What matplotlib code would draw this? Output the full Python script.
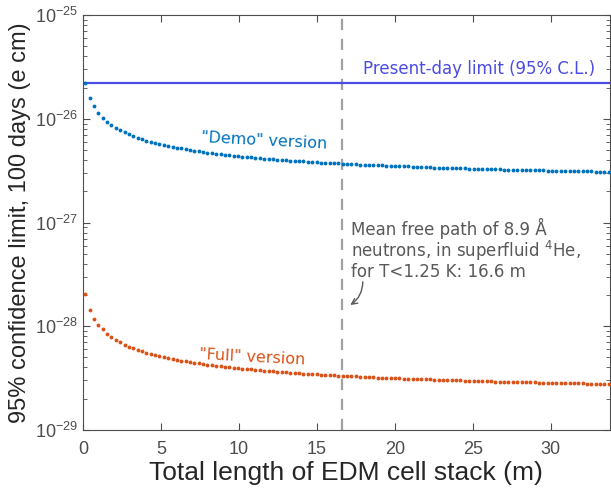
import numpy as np
import matplotlib
matplotlib.use('Agg')
import matplotlib.pyplot as plt

# Stack length grid (m)
stack_length_m = [round(0.14 + 0.28 * k, 2) for k in range(121)]

# "Demo" version limit, units of 1e-26 e cm
demo_limit = [
    2.22, 1.60, 1.32, 1.14, 1.01, 0.933, 0.869, 0.817, 0.775, 0.739,
    0.708, 0.681, 0.658, 0.637, 0.618, 0.601, 0.586, 0.572, 0.560, 0.548,
    0.537, 0.527, 0.518, 0.509, 0.501, 0.494, 0.487, 0.480, 0.473, 0.467,
    0.462, 0.456, 0.451, 0.446, 0.442, 0.437, 0.433, 0.429, 0.425, 0.421,
    0.418, 0.414, 0.411, 0.408, 0.405, 0.402, 0.399, 0.396, 0.394, 0.391,
    0.389, 0.386, 0.384, 0.382, 0.379, 0.377, 0.375, 0.373, 0.371, 0.369,
    0.368, 0.366, 0.364, 0.362, 0.361, 0.359, 0.358, 0.356, 0.355, 0.353,
    0.352, 0.350, 0.349, 0.348, 0.347, 0.345, 0.344, 0.343, 0.342, 0.341,
    0.339, 0.338, 0.337, 0.336, 0.335, 0.334, 0.333, 0.332, 0.331, 0.330,
    0.329, 0.329, 0.328, 0.327, 0.326, 0.325, 0.324, 0.324, 0.323, 0.322,
    0.321, 0.320, 0.320, 0.319, 0.318, 0.318, 0.317, 0.316, 0.316, 0.315,
    0.314, 0.314, 0.313, 0.312, 0.312, 0.311, 0.311, 0.310, 0.310, 0.309,
    0.308,
]

# "Full" version limit, units of 1e-28 e cm
full_limit = [
    2.05, 1.44, 1.18, 1.035, 0.935, 0.849, 0.786, 0.735, 0.698, 0.665,
    0.637, 0.613, 0.592, 0.573, 0.556, 0.541, 0.527, 0.515, 0.504, 0.493,
    0.483, 0.474, 0.466, 0.458, 0.451, 0.445, 0.438, 0.432, 0.426, 0.420,
    0.416, 0.410, 0.406, 0.401, 0.398, 0.393, 0.390, 0.386, 0.383, 0.379,
    0.376, 0.373, 0.370, 0.367, 0.365, 0.362, 0.359, 0.356, 0.355, 0.352,
    0.350, 0.347, 0.346, 0.344, 0.341, 0.339, 0.338, 0.336, 0.334, 0.332,
    0.331, 0.329, 0.328, 0.326, 0.325, 0.323, 0.322, 0.320, 0.320, 0.318,
    0.317, 0.315, 0.314, 0.313, 0.312, 0.311, 0.310, 0.309, 0.308, 0.307,
    0.305, 0.304, 0.303, 0.302, 0.302, 0.301, 0.300, 0.299, 0.298, 0.297,
    0.296, 0.296, 0.295, 0.294, 0.293, 0.293, 0.292, 0.292, 0.291, 0.290,
    0.289, 0.288, 0.288, 0.287, 0.286, 0.286, 0.285, 0.284, 0.284, 0.284,
    0.283, 0.283, 0.282, 0.281, 0.281, 0.280, 0.280, 0.279, 0.279, 0.278,
    0.277,
]

present_day_limit = 2.2e-26
mean_free_path_m = 16.6

x_ticks = [0, 5, 10, 15, 20, 25, 30]
y_ticks = [1e-29, 1e-28, 1e-27, 1e-26, 1e-25]

blue = '#0072BD'
orange = '#D95319'
limit_color = '#4B4BE6'
gray_text = '#595959'
axis_gray = '#4D4D4D'

fig = plt.figure(figsize=(6.11, 4.88), dpi=100)
ax = fig.add_axes([0.136, 0.119, 0.862, 0.850])

demo = np.array(demo_limit) * 1e-26
full = np.array(full_limit) * 1e-28

ax.plot(stack_length_m, demo, 'o', color=blue, ms=2.8, mec='none', zorder=3)
ax.plot(stack_length_m, full, 'o', color=orange, ms=2.8, mec='none', zorder=3)
ax.axhline(present_day_limit, color=limit_color, lw=1.6, zorder=2)
ax.axvline(mean_free_path_m, color='#A0A0A0', lw=1.6, ls=(0, (5, 4)), zorder=1)

ax.set_yscale('log')
ax.set_xlim(0, 33.8)
ax.set_ylim(1e-29, 1e-25)
ax.set_xticks(x_ticks)
ax.set_yticks(y_ticks)

ax.tick_params(which='both', direction='in', top=True, right=True,
               colors=axis_gray, labelcolor=axis_gray, labelsize=13)
ax.tick_params(which='major', length=5)
ax.tick_params(which='minor', length=3)
ax.tick_params(axis='x', pad=8)
for sp in ax.spines.values():
    sp.set_color(axis_gray)
    sp.set_linewidth(0.8)

for lab in ax.get_xticklabels() + ax.get_yticklabels():
    lab.set_family('Liberation Sans')

ax.set_xlabel('Total length of EDM cell stack (m)', fontsize=19,
              family='Liberation Sans', color='#262626', labelpad=2)
ax.set_ylabel('95% confidence limit, 100 days (e cm)', fontsize=17,
              family='Liberation Sans', color='#262626', labelpad=3)

ax.text(25.4, 2.5e-26, 'Present-day limit (95% C.L.)', color=limit_color,
        fontsize=12, ha='center', va='bottom', family='DejaVu Sans')
ax.text(11.6, 6.1e-27, '"Demo" version', color=blue, fontsize=11.5,
        ha='center', va='center', rotation=-3, family='DejaVu Sans')
ax.text(10.85, 5.0e-29, '"Full" version', color=orange, fontsize=11.5,
        ha='center', va='center', rotation=-3, family='DejaVu Sans')
ax.text(17.2, 1.12e-27,
        'Mean free path of 8.9 \u00c5\nneutrons, in superfluid $^{4}$He,\nfor T<1.25 K: 16.6 m',
        color=gray_text, fontsize=12, ha='left', va='top', linespacing=1.0,
        family='DejaVu Sans')
ax.annotate('', xy=(17.0, 1.55e-28), xytext=(17.95, 2.85e-28),
            arrowprops=dict(arrowstyle='->', color=gray_text, lw=1.0,
                            connectionstyle='arc3,rad=-0.3'))

fig.savefig('out.png', dpi=100)
